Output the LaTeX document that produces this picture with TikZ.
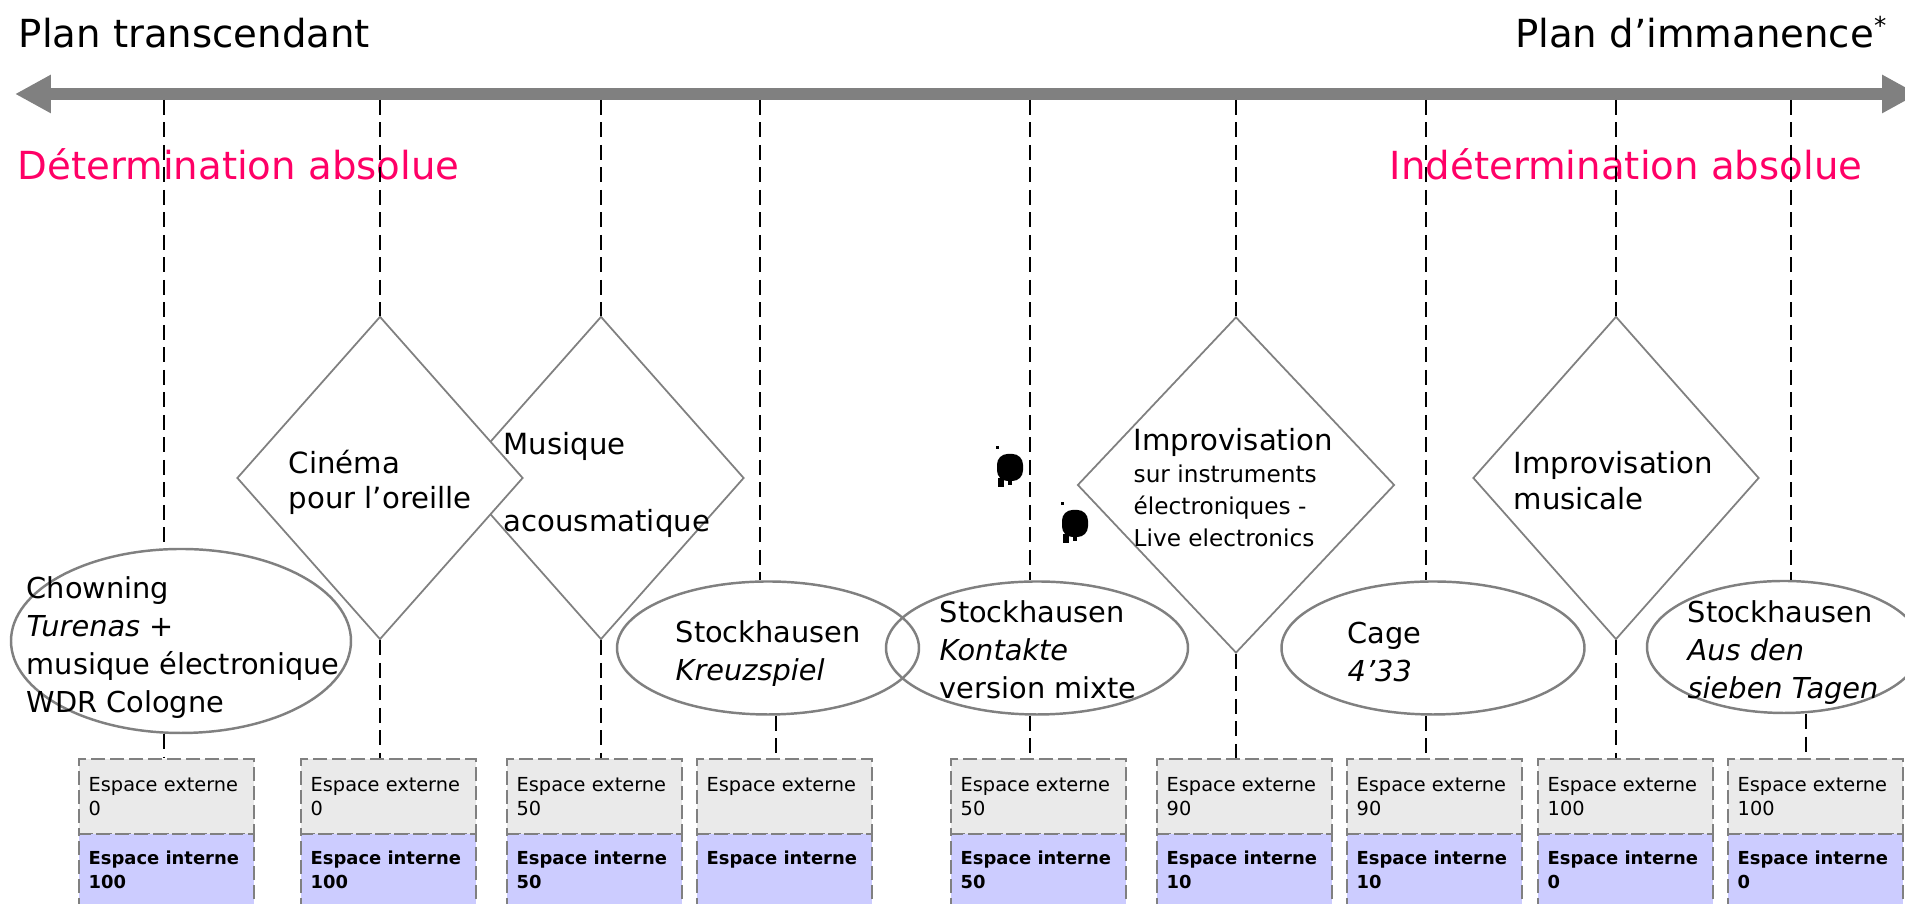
\documentclass[tikz,border=0pt]{standalone}
\usepackage{fontspec}
\setmainfont{DejaVu Sans}
\usetikzlibrary{arrows.meta,shapes.geometric}
\definecolor{axisgray}{HTML}{808080}
\definecolor{rimgray}{HTML}{808080}
\definecolor{polered}{HTML}{FF0066}
\definecolor{extfill}{HTML}{EAEAEA}
\definecolor{intfill}{HTML}{CCCCFF}
\newcommand\polefont{\fontsize{11pt}{13pt}\selectfont}
\newcommand\workfont{\fontsize{8.2pt}{10.8pt}\selectfont}
\newcommand\genrefont{\fontsize{8.3pt}{10.2pt}\selectfont}
\newcommand\smallgenrefont{\fontsize{6.6pt}{9.1pt}\selectfont}
\newcommand\extfont{\fontsize{5.5pt}{6.8pt}\selectfont}
\newcommand\intfont{\fontsize{5.1pt}{7pt}\selectfont\bfseries}

\begin{document}
\begin{tikzpicture}[x=0.1mm,y=-0.1mm,
		guide/.style={line width=0.8pt,dash pattern=on 1.5mm off 0.75mm},
		work/.style={ellipse,draw=rimgray,line width=0.7pt,inner sep=0pt},
		genre/.style={diamond,draw=rimgray,fill=white,line width=0.5pt,inner sep=0pt,minimum width=28.6mm,minimum height=32.3mm},
		lbl/.style={inner sep=0pt,anchor=north west,align=left},
		pole/.style={inner sep=0pt,font=\polefont},
		spacebox/.style={draw=rimgray,line width=0.6pt,dash pattern=on 1.4mm off 0.5mm,anchor=north west,minimum width=17.5mm,inner sep=0pt}]
		\useasboundingbox (0,0) rectangle (1905,904);
%
		\node[pole,anchor=base west] (trans) at (18,48) {Plan transcendant};
		\node[pole,anchor=base east] (imman) at (1887,48) {Plan d’immanence\raisebox{0.35em}{\fontsize{7pt}{7pt}\selectfont*}};
		\node[pole,anchor=base west,text=polered] (det) at (17,180) {Détermination absolue};
		\node[pole,anchor=base east,text=polered] (indet) at (1863,180) {Indétermination absolue};
%
		\coordinate (axL) at (15,94);
		\coordinate (axR) at (1918,94);
		\draw[axisgray,line width=1.17mm,{Triangle[length=3.6mm,width=3.6mm]}-{Triangle[length=3.6mm,width=3.6mm]}] (axL) -- (axR);
%
		\foreach \bx/\ev/\iv [count=\i] in {78/0/100,300/0/100,506/50/50,696//,950/50/50,1156/90/10,1346/90/10,1537/100/0,1727/100/0}{
			\node[spacebox,fill=extfill,minimum height=7.5mm] (E\i) at (\bx,758) {};
			\node[spacebox,fill=intfill,minimum height=8mm] (I\i) at (\bx,833) {};
			\node[lbl,font=\extfont] (EL\i) at (\bx+10,777) {Espace externe\\\ev};
			\node[lbl,font=\intfont] (IL\i) at (\bx+10,850) {Espace interne\\\iv};
		}
%
		\node[work,minimum width=34mm,minimum height=18.4mm] (S1) at (181,641) {};
		\node[genre] (S3) at (601,478) {};
		\node[genre] (S2) at (380,478) {};
		\node[work,minimum width=30.2mm,minimum height=13.3mm] (S4) at (768,648) {};
		\node[work,minimum width=30.2mm,minimum height=13.3mm] (S5) at (1037,648) {};
		\node[genre,minimum width=31.7mm,minimum height=33.6mm] (S6) at (1236,485) {};
		\node[work,minimum width=30.3mm,minimum height=13.3mm] (S7) at (1433,648) {};
		\node[genre] (S8) at (1616,478) {};
		\node[work,minimum width=27.4mm,minimum height=13.2mm] (S9) at (1784,647) {};
%
		\foreach \i/\ux/\lx in {1/164/164,2/380/380,3/601/601,4/760/776,5/1030/1030,6/1236/1236,7/1426/1426,8/1616/1616,9/1791/1806}{
			\coordinate (u\i) at (\ux,100);
			\coordinate (l\i) at (\lx,758);
			\draw[guide] (u\i) -- (u\i |- S\i.north);
			\draw[guide] (l\i |- S\i.south) -- (l\i |- E\i.north);
		}
%
		\node[lbl,font=\workfont] (t1) at (26,576) {Chowning\\\textit{Turenas} +\\musique électronique\\WDR Cologne};
		\node[lbl,font=\genrefont] (t2) at (288,449) {Cinéma\\pour l’oreille};
		\node[lbl,font=\genrefont] (t3) at (503,432) {Musique\\[4.1mm]acousmatique};
		\node[lbl,font=\workfont] (t4) at (675,620) {Stockhausen\\\textit{Kreuzspiel}};
		\node[lbl,font=\workfont] (t5) at (939,600) {Stockhausen\\\textit{Kontakte}\\version mixte};
		\node[lbl,font=\smallgenrefont] (t6) at (1133,428) {{\genrefont Improvisation}\\sur instruments\\électroniques -\\Live electronics};
		\node[lbl,font=\workfont] (t7) at (1347,621) {Cage\\\textit{4’33}};
		\node[lbl,font=\genrefont] (t8) at (1513,451) {Improvisation\\musicale};
		\node[lbl,font=\workfont] (t9) at (1687,600) {Stockhausen\\\textit{Aus den}\\\textit{sieben Tagen}};
%
		\foreach \dx/\dy in {0/0,65/56}{
			\begin{scope}[shift={(\dx,\dy)}]
				\fill (996,446) rectangle (999,449);
				\fill[rounded corners=3] (997,454) rectangle (1023,481);
				\fill (998,478) rectangle (1004,487);
				\fill (1008,478) rectangle (1012,485);
			\end{scope}
		}
	\end{tikzpicture}
\end{document}
